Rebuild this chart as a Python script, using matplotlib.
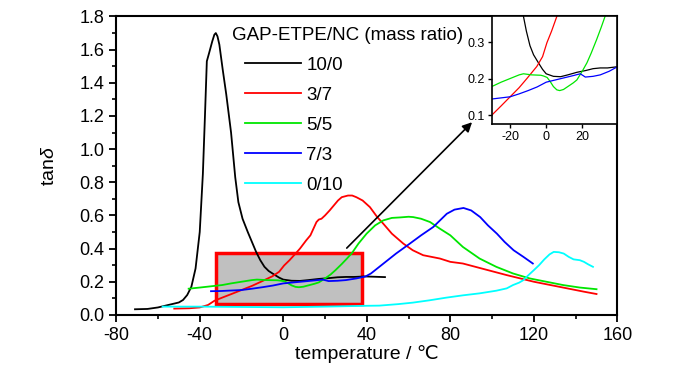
import numpy as np
import matplotlib
matplotlib.use('Agg')
import matplotlib.pyplot as plt
from matplotlib.patches import Rectangle
from matplotlib.ticker import MultipleLocator

plt.rcParams['font.family'] = ['Liberation Sans', 'DejaVu Sans']
plt.rcParams['mathtext.fontset'] = 'custom'
plt.rcParams['mathtext.it'] = 'Liberation Sans:italic'
plt.rcParams['mathtext.rm'] = 'Liberation Sans'
plt.rcParams['axes.unicode_minus'] = False

# ── datos ──
labels = ['10/0', '3/7', '5/5', '7/3', '0/10']
colors = ['#000000', '#ff0000', '#00e600', '#0000ff', '#00ffff']

t_10_0 = [-71, -65, -60, -55, -50, -48, -46, -44, -42, -40, -38.5, -37.5, -36.6,
          -35.5, -34, -33, -32.3, -31.5, -30.6, -29, -27.3, -25, -23, -21.5,
          -19.5, -17, -15, -13, -11, -9, -7, -4.3, -2, 0, 4, 8, 12, 17, 22, 26,
          30, 34, 39, 44, 48.7]
d_10_0 = [0.034, 0.036, 0.045, 0.06, 0.075, 0.09, 0.12, 0.17, 0.28, 0.50, 0.85,
          1.20, 1.53, 1.58, 1.65, 1.69, 1.70, 1.68, 1.63, 1.48, 1.33, 1.10, 0.83,
          0.68, 0.58, 0.50, 0.44, 0.38, 0.33, 0.29, 0.265, 0.243, 0.225, 0.213,
          0.206, 0.205, 0.21, 0.217, 0.222, 0.227, 0.229, 0.229, 0.232, 0.23, 0.228]

t_3_7 = [-52.2, -45, -40, -36, -33, -29.3, -25, -20, -15, -10.7, -5.2, -2, 0.4,
         3, 5.9, 8, 11, 13, 15.9, 17, 18.3, 20, 22.2, 26.2, 28, 31, 33, 35, 38,
         41.5, 45, 47.9, 52, 57.5, 62, 67, 75, 80, 86, 95, 107, 120, 128, 136,
         144, 150]
d_3_7 = [0.038, 0.04, 0.045, 0.06, 0.085, 0.104, 0.125, 0.15, 0.175, 0.20, 0.233,
         0.26, 0.298, 0.33, 0.37, 0.40, 0.45, 0.48, 0.56, 0.575, 0.58, 0.60, 0.63,
         0.69, 0.71, 0.72, 0.72, 0.71, 0.69, 0.65, 0.59, 0.55, 0.49, 0.43, 0.39,
         0.36, 0.34, 0.32, 0.31, 0.28, 0.24, 0.20, 0.18, 0.16, 0.14, 0.126]

t_5_5 = [-45.3, -40, -35, -29.3, -25, -20, -15, -12.6, -8, -3, -1.5, 0.5, 2.2,
         4, 5.9, 7.5, 9.6, 12, 15, 17, 20, 22.6, 25, 28, 30.5, 33, 36, 39.9, 44,
         47.9, 52, 56, 60, 62.2, 66, 70.3, 75, 80, 86, 94, 102, 110, 118, 126,
         134, 142, 150]
d_5_5 = [0.158, 0.165, 0.172, 0.18, 0.19, 0.20, 0.21, 0.213, 0.21, 0.209, 0.207,
         0.203, 0.192, 0.178, 0.169, 0.167, 0.17, 0.178, 0.188, 0.196, 0.22,
         0.243, 0.27, 0.307, 0.34, 0.375, 0.43, 0.49, 0.54, 0.57, 0.585, 0.588,
         0.592, 0.59, 0.58, 0.56, 0.52, 0.48, 0.41, 0.34, 0.29, 0.25, 0.22, 0.20,
         0.18, 0.165, 0.155]

t_7_3 = [-34.6, -30, -25, -20, -15, -10, -5, 0, 5, 10, 15, 18.9, 20.5, 21.7, 26,
         30, 35, 39.4, 42, 45, 48, 54, 60.6, 66, 71.8, 78.3, 82, 86.3, 90, 94.3,
         98, 102.3, 106, 110.3, 115, 119.5]
d_7_3 = [0.143, 0.144, 0.147, 0.15, 0.158, 0.167, 0.177, 0.19, 0.196, 0.202,
         0.208, 0.213, 0.208, 0.204, 0.206, 0.21, 0.22, 0.232, 0.25, 0.28, 0.31,
         0.37, 0.43, 0.48, 0.53, 0.61, 0.635, 0.645, 0.63, 0.59, 0.54, 0.49, 0.44,
         0.39, 0.35, 0.31]

t_0_10 = [-57.8, -50, -40, -20, 0, 20, 40, 46, 55, 62, 70, 78, 86, 94, 102, 107,
          110, 113, 115, 117, 120, 122.5, 125, 127.5, 129.5, 132, 134.3, 136.7,
          139, 142, 144, 146, 148.3]
d_0_10 = [0.05, 0.05, 0.05, 0.048, 0.046, 0.05, 0.055, 0.056, 0.065, 0.074,
          0.088, 0.104, 0.118, 0.13, 0.146, 0.16, 0.18, 0.195, 0.21, 0.235, 0.27,
          0.30, 0.335, 0.365, 0.38, 0.378, 0.37, 0.35, 0.335, 0.33, 0.32, 0.305,
          0.29]

series = [(t_10_0, d_10_0), (t_3_7, d_3_7), (t_5_5, d_5_5),
          (t_7_3, d_7_3), (t_0_10, d_0_10)]

# zona ampliada (caja roja) y flecha hacia el recuadro
zoom_x = (-32.1, 37.5)
zoom_y = (0.068, 0.373)
arrow_from = (30.4, 0.403)
arrow_to = (90.4, 1.162)

fig = plt.figure(figsize=(7, 3.74), dpi=100, facecolor='white')
ax = fig.add_axes([0.166, 0.158, 0.716, 0.798])

ax.add_patch(Rectangle((zoom_x[0], zoom_y[0]), zoom_x[1] - zoom_x[0],
                       zoom_y[1] - zoom_y[0], facecolor='#c0c0c0',
                       edgecolor='#ff0000', lw=2.5, zorder=1))

for (t, d), c, lab in zip(series, colors, labels):
    ax.plot(t, d, color=c, lw=1.3, label=lab, zorder=3)

ax.annotate('', xy=arrow_to, xytext=arrow_from,
            arrowprops=dict(arrowstyle='-|>', color='black', lw=1.2,
                            mutation_scale=14, shrinkA=0, shrinkB=0))

ax.set_xlim(-80, 160)
ax.set_ylim(0, 1.8)
ax.xaxis.set_major_locator(MultipleLocator(40))
ax.xaxis.set_minor_locator(MultipleLocator(20))
ax.yaxis.set_major_locator(MultipleLocator(0.2))
ax.yaxis.set_minor_locator(MultipleLocator(0.1))
ax.yaxis.set_major_formatter(plt.FuncFormatter(lambda v, p: f'{v:.1f}'))
ax.tick_params(which='major', direction='out', length=5, width=1.3,
               labelsize=13, top=False, right=False)
ax.tick_params(which='minor', direction='out', length=3, width=1.2,
               top=False, right=False)
for s in ax.spines.values():
    s.set_linewidth(1.5)

ax.set_xlabel('temperature / \u2103', fontsize=14, labelpad=1)
ax.set_ylabel(r'tan$\mathit{\delta}$', fontsize=14, labelpad=15)

ax.text(0.232, 0.965, 'GAP-ETPE/NC (mass ratio)', transform=ax.transAxes,
        fontsize=13.5, ha='left', va='top')
leg = ax.legend(loc='upper left', bbox_to_anchor=(0.256, 0.866), frameon=False,
                fontsize=13.5, handlelength=3.0, handletextpad=0.3,
                labelspacing=0.69, borderpad=0, borderaxespad=0)

# recuadro ampliado
ax_in = fig.add_axes([0.703, 0.668, 0.179, 0.288])
for (t, d), c in zip(series, colors):
    ax_in.plot(t, d, color=c, lw=0.9)
ax_in.set_xlim(-30, 39.5)
ax_in.set_ylim(0.075, 0.37)
ax_in.set_xticks([-20, 0, 20])
ax_in.set_yticks([0.1, 0.2, 0.3])
ax_in.tick_params(direction='out', length=3, width=1, labelsize=9, pad=2)
for s in ax_in.spines.values():
    s.set_linewidth(1.2)

fig.savefig('out.png', dpi=100, facecolor='white')
